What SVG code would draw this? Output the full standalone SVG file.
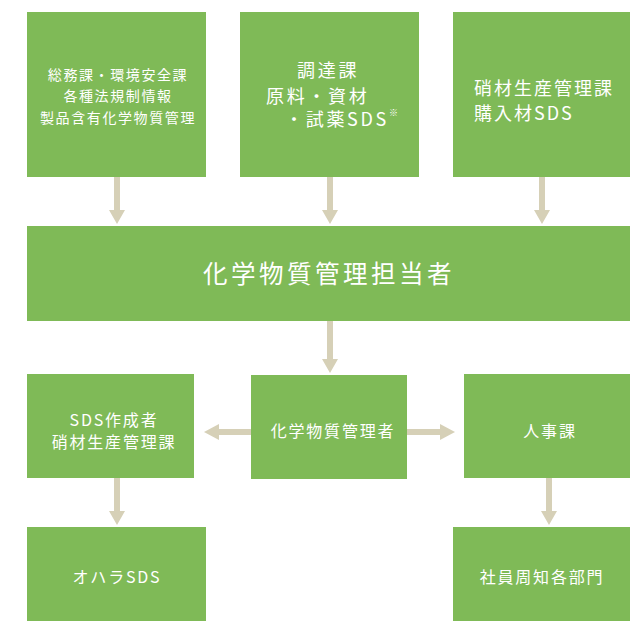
<svg xmlns="http://www.w3.org/2000/svg" width="630" height="621" viewBox="0 0 630 621">
<style>
.box{fill:#7fba57}
.t{fill:#ffffff;font-family:"Noto Sans CJK JP","Noto Sans",sans-serif;text-anchor:middle;dominant-baseline:central}
.s{text-anchor:start}
.arr{fill:#d6d0b7}
</style>
<rect width="630" height="621" fill="#ffffff"/>
<g id="n1"><rect class="box" x="27" y="12" width="179" height="165"/>
<text class="t" font-size="14" letter-spacing="1.6"><tspan x="118" y="74">総務課・環境安全課</tspan><tspan x="118" y="95">各種法規制情報</tspan><tspan x="118" y="117">製品含有化学物質管理</tspan></text></g>
<g id="n2"><rect class="box" x="240" y="12" width="179" height="165"/>
<text class="t s" font-size="18" letter-spacing="2.7"><tspan x="297" y="69">調達課</tspan><tspan x="266" y="95">原料・資材</tspan><tspan x="285" y="118">・試薬SDS<tspan font-size="9" dy="-6">※</tspan></tspan></text></g>
<g id="n3"><rect class="box" x="453" y="12" width="177" height="165"/>
<text class="t s" font-size="18" letter-spacing="2"><tspan x="474" y="87">硝材生産管理課</tspan><tspan x="474" y="112">購入材SDS</tspan></text></g>
<g id="n4"><rect class="box" x="27" y="226" width="603" height="95"/>
<text class="t" x="329" y="272" font-size="24.5" letter-spacing="3.5">化学物質管理担当者</text></g>
<g id="n5"><rect class="box" x="27" y="374" width="167" height="104"/>
<text class="t" font-size="16" letter-spacing="1.8"><tspan x="114" y="419">SDS作成者</tspan><tspan x="114" y="441">硝材生産管理課</tspan></text></g>
<g id="n6"><rect class="box" x="251" y="375" width="156" height="104"/>
<text class="t" x="333" y="430" font-size="16" letter-spacing="1.8">化学物質管理者</text></g>
<g id="n7"><rect class="box" x="464" y="374" width="166" height="104"/>
<text class="t" x="550" y="430" font-size="16" letter-spacing="1.8">人事課</text></g>
<g id="n8"><rect class="box" x="27" y="527" width="179" height="94"/>
<text class="t" x="117" y="576" font-size="16" letter-spacing="1.8">オハラSDS</text></g>
<g id="n9"><rect class="box" x="453" y="527" width="177" height="94"/>
<text class="t" x="542" y="576" font-size="16" letter-spacing="1.8">社員周知各部門</text></g>
<g id="connectors">
<polygon class="arr" points="114,177 120,177 120,210 125,210 117,224 109,210 114,210"/>
<polygon class="arr" points="327,177 333,177 333,210 338,210 330,224 322,210 327,210"/>
<polygon class="arr" points="539,177 545,177 545,210 550,210 542,224 534,210 539,210"/>
<polygon class="arr" points="327,321 333,321 333,359 338,359 330,373 322,359 327,359"/>
<polygon class="arr" points="251,429 219,429 219,424 204,432 219,440 219,435 251,435"/>
<polygon class="arr" points="407,429 440,429 440,424 455,432 440,440 440,435 407,435"/>
<polygon class="arr" points="114,478 120,478 120,511 125,511 117,525 109,511 114,511"/>
<polygon class="arr" points="546,478 552,478 552,511 557,511 549,525 541,511 546,511"/>
</g>
</svg>
